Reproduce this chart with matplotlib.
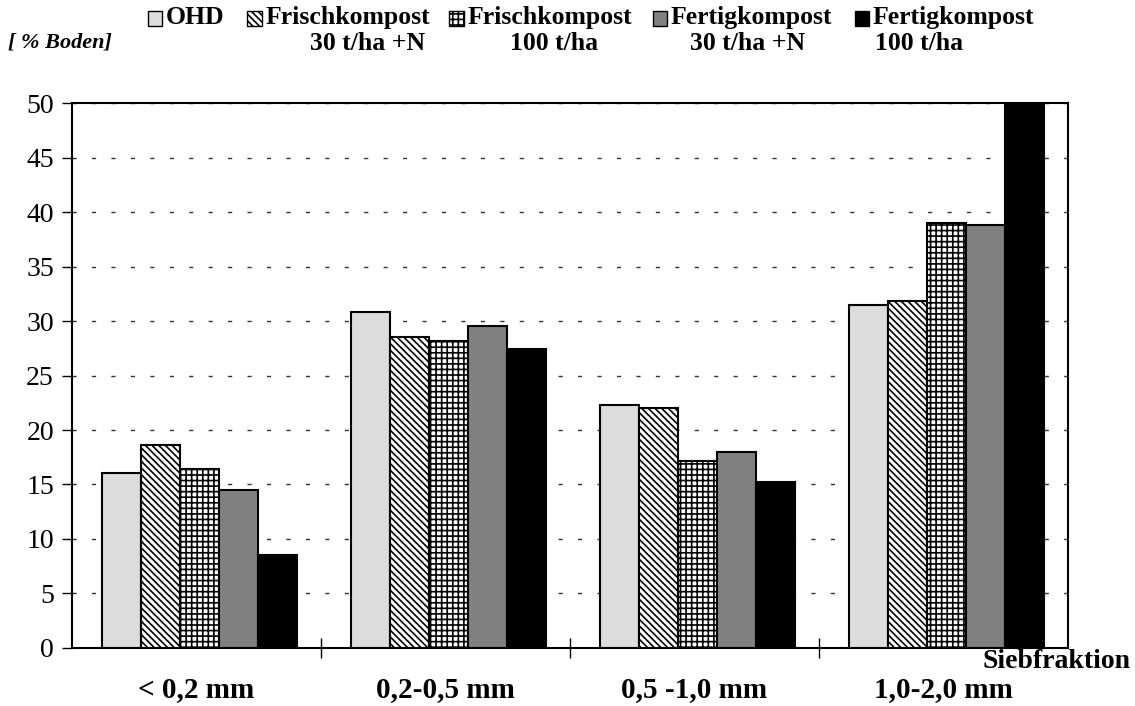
import numpy as np
import matplotlib.pyplot as plt
from matplotlib.patches import Rectangle

# Siebfraktionen und Varianten
fractions = ['< 0,2 mm', '0,2-0,5 mm', '0,5 -1,0 mm', '1,0-2,0 mm']
variants = ['OHD', 'Frischkompost\n30 t/ha +N', 'Frischkompost\n100 t/ha',
            'Fertigkompost\n30 t/ha +N', 'Fertigkompost\n100 t/ha']

ohd = [16.1, 30.8, 22.3, 31.5]
frisch_30 = [18.6, 28.5, 22.0, 31.8]
frisch_100 = [16.4, 28.2, 17.2, 39.0]
fertig_30 = [14.5, 29.5, 18.0, 38.8]
fertig_100 = [8.5, 27.4, 15.2, 49.8]

series = [ohd, frisch_30, frisch_100, fertig_30, fertig_100]
fills = ['#dcdcdc', 'white', 'white', '#808080', 'black']
hatches = [None, '\\\\\\\\\\', '+++', None, None]

plt.rcParams['font.family'] = ['Liberation Serif', 'DejaVu Serif']
plt.rcParams['hatch.linewidth'] = 1.2

fig = plt.figure(figsize=(11.35, 7.06), dpi=100)
ax = fig.add_axes([0.0634, 0.0822, 0.8776, 0.7718])

x = np.arange(len(fractions))
w = 0.157
for i, vals in enumerate(series):
    ax.bar(x - 2 * w + i * w + 0.012, vals, w, color=fills[i], hatch=hatches[i],
           edgecolor='black', linewidth=1.5, zorder=3)

ax.set_xlim(-0.5, 3.5)
ax.set_ylim(0, 50)
ax.set_yticks(range(0, 51, 5))
ax.tick_params(axis='y', labelsize=20, direction='out', length=7, width=1, pad=6)
ax.set_xticks([0.5, 1.5, 2.5])
ax.set_xticklabels([])
ax.tick_params(axis='x', direction='inout', length=14, width=1)
for i, lab in enumerate(fractions):
    ax.text(i, -3.8, lab, ha='center', va='center', fontsize=21, fontweight='bold')
ax.text(1.063, -0.024, 'Siebfraktion', transform=ax.transAxes, ha='right',
        va='center', fontsize=20, fontweight='bold')

ax.yaxis.grid(True, color='#333333', linewidth=1, dashes=(3, 11))
ax.set_axisbelow(True)
for s in ax.spines.values():
    s.set_linewidth(1.5)

# Legende oben
leg_x = [0.130, 0.218, 0.396, 0.575, 0.753]
line2_x = [None, 0.273, 0.449, 0.608, 0.771]
fig.text(0.007, 0.94, '[ % Boden]', fontsize=16, fontstyle='italic',
         fontweight='bold', va='center')
for i, name in enumerate(variants):
    fig.add_artist(Rectangle((leg_x[i], 0.963), 0.0125, 0.022, transform=fig.transFigure,
                             facecolor=fills[i], hatch=hatches[i], edgecolor='black',
                             linewidth=1))
    parts = name.split('\n')
    fig.text(leg_x[i] + 0.016, 0.975, parts[0], fontsize=18.5, fontweight='bold',
             va='center')
    if len(parts) > 1:
        fig.text(line2_x[i], 0.938, parts[1], fontsize=18.5, fontweight='bold',
                 va='center')

fig.savefig('out.png', dpi=100)
